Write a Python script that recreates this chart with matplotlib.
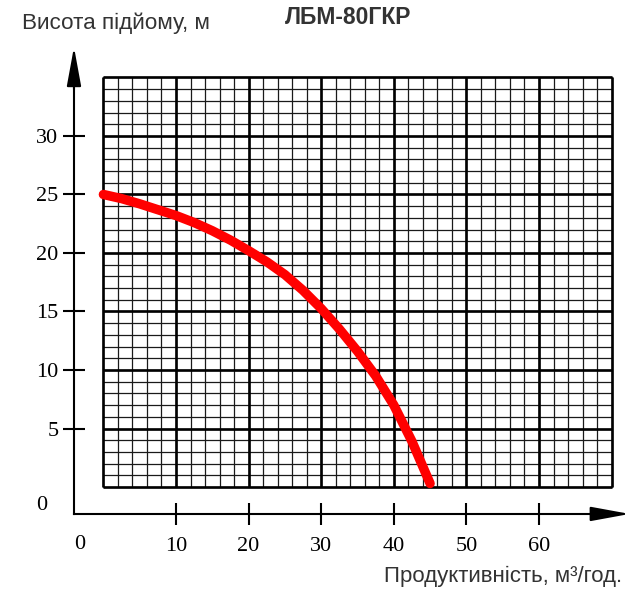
import numpy as np
import matplotlib
matplotlib.use("Agg")
import matplotlib.pyplot as plt

# pump curve ЛБМ-80ГКР
flow = [0, 2.5, 5, 7.5, 10, 12.5, 15, 17.5, 20, 22.5, 25, 27.5, 30, 32.5, 35, 37.5, 40, 42.5, 45]
head = [25.0, 24.65, 24.2, 23.7, 23.2, 22.6, 21.9, 21.1, 20.2, 19.25, 18.15, 16.8, 15.25,
        13.5, 11.6, 9.5, 7.0, 3.9, 0.3]

x_ticks = [10, 20, 30, 40, 50, 60]
y_ticks = [5, 10, 15, 20, 25, 30]

grid_x_max = 70
grid_y_max = 35

fig = plt.figure(figsize=(6.31, 5.90), dpi=100)
ax = fig.add_axes([0, 0, 1, 1])
ax.set_xlim(-14.24, 72.67)
ax.set_ylim(-8.80, 41.62)

# graph paper grid
minor_x = np.arange(0, grid_x_max + 1, 2)
minor_y = np.arange(0, grid_y_max + 1, 1)
major_x = np.arange(0, grid_x_max + 1, 10)
major_y = np.arange(0, grid_y_max + 1, 5)
ax.vlines(minor_x, 0, grid_y_max, color='#1a1a1a', linewidth=0.9, zorder=1)
ax.hlines(minor_y, 0, grid_x_max, color='#1a1a1a', linewidth=0.9, zorder=1)
ax.vlines(major_x, 0, grid_y_max, color='black', linewidth=1.9, zorder=2)
ax.hlines(major_y, 0, grid_x_max, color='black', linewidth=1.9, zorder=2)

# curve
ax.plot(flow, head, color='#ff0000', linewidth=6.8, solid_capstyle='round',
        solid_joinstyle='round', zorder=3)

# axes with arrows
x0, y0 = -4.05, -2.3
ax.spines['top'].set_visible(False)
ax.spines['right'].set_visible(False)
ax.spines['left'].set_position(('data', x0))
ax.spines['bottom'].set_position(('data', y0))
ax.spines['left'].set_bounds(y0, 36)
ax.spines['bottom'].set_bounds(x0, 70)
ax.spines['left'].set_linewidth(1.5)
ax.spines['bottom'].set_linewidth(1.5)

arrow = dict(arrowstyle='-|>,head_length=1.2,head_width=0.22', color='black',
             lw=1.5, mutation_scale=20, shrinkA=0, shrinkB=0)
ax.annotate('', xy=(x0, 37.6), xytext=(x0, 34), arrowprops=arrow)
ax.annotate('', xy=(72.5, y0), xytext=(68, y0), arrowprops=arrow)

ax.set_xticks(x_ticks)
ax.set_yticks(y_ticks)
ax.tick_params(direction='inout', length=16.5, width=1.5, color='black')
ax.tick_params(axis='x', pad=8)
ax.tick_params(axis='y', pad=3)
for lbl in ax.get_xticklabels() + ax.get_yticklabels():
    lbl.set_fontfamily('Liberation Serif')
    lbl.set_fontsize(16)

ax.text(-3.2, -4.95, '0', fontsize=16, family='Liberation Serif', ha='center', va='center')
ax.text(-8.45, -1.6, '0', fontsize=16, family='Liberation Serif', ha='center', va='center')

fig.text(22 / 631, 1 - 23 / 590, 'Висота підйому, м', fontsize=16.2, family='Liberation Sans',
         color='#333333', ha='left', va='center')
fig.text(348 / 631, 1 - 17 / 590, 'ЛБМ-80ГКР', fontsize=16.5, family='Liberation Sans',
         fontweight='bold', color='#333333', ha='center', va='center')
fig.text(622 / 631, 1 - 576 / 590, 'Продуктивність, м³/год.', fontsize=16,
         family='Liberation Sans', color='#333333', ha='right', va='center')

fig.savefig('out.png', dpi=100)
